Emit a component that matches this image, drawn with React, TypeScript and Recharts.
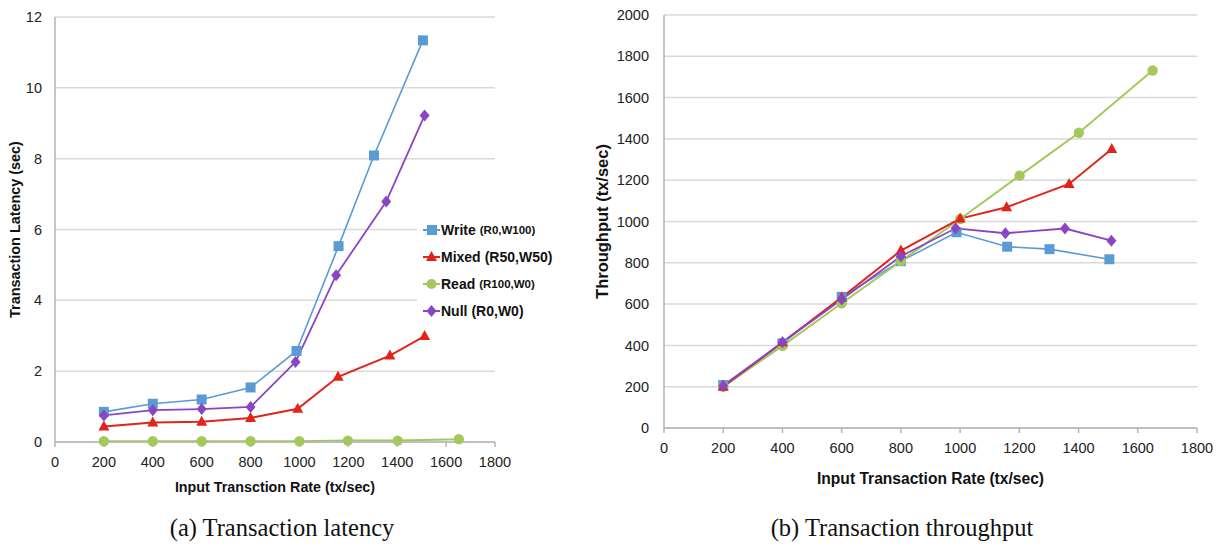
import React from "react";
import { LineChart, Line, XAxis, YAxis, CartesianGrid, Label } from "recharts";

const FONT = "'Liberation Sans', Arial, sans-serif";

// x ticks shared by both panels
const xTicks = [0, 200, 400, 600, 800, 1000, 1200, 1400, 1600, 1800];
const latTicks = [0, 2, 4, 6, 8, 10, 12];
const thrTicks = [0, 200, 400, 600, 800, 1000, 1200, 1400, 1600, 1800, 2000];

// (a) latency, sec
const latWriteX = [200, 400, 600, 800, 988, 1160, 1305, 1505];
const latWriteY = [0.85, 1.08, 1.2, 1.54, 2.57, 5.53, 8.09, 11.34];
const latMixedX = [200, 400, 600, 800, 993, 1158, 1370, 1512];
const latMixedY = [0.44, 0.55, 0.57, 0.68, 0.94, 1.84, 2.44, 2.99];
const latReadX = [200, 400, 600, 800, 1000, 1198, 1402, 1652];
const latReadY = [0.02, 0.02, 0.02, 0.02, 0.02, 0.04, 0.04, 0.08];
const latNullX = [200, 400, 600, 800, 984, 1150, 1355, 1512];
const latNullY = [0.75, 0.9, 0.93, 0.99, 2.26, 4.71, 6.79, 9.22];

// (b) throughput, tx/sec
const thrWriteX = [200, 400, 600, 800, 988, 1159, 1302, 1504];
const thrWriteY = [208, 410, 635, 808, 948, 878, 866, 817];
const thrMixedX = [200, 400, 600, 800, 1000, 1157, 1368, 1512];
const thrMixedY = [200, 415, 632, 859, 1014, 1069, 1182, 1351];
const thrReadX = [200, 400, 600, 800, 1000, 1201, 1401, 1650];
const thrReadY = [200, 398, 604, 808, 1012, 1222, 1430, 1731];
const thrNullX = [200, 400, 600, 800, 985, 1153, 1354, 1511];
const thrNullY = [205, 415, 622, 832, 967, 943, 966, 907];

const BLUE = "#5b9bd5";
const RED = "#e2231a";
const GREEN = "#a3c85c";
const PURPLE = "#8a46c2";

const zip = (xs: number[], ys: number[]) => xs.map((x, i) => ({ x, y: ys[i] }));

// marker shapes
const square = (c: string) => (p: any) => (
  <rect key={`s${p.index}`} x={p.cx - 5} y={p.cy - 5} width={10} height={10} fill={c} />
);
const triangle = (c: string) => (p: any) => (
  <polygon
    key={`t${p.index}`}
    points={`${p.cx},${p.cy - 6} ${p.cx + 5.5},${p.cy + 4} ${p.cx - 5.5},${p.cy + 4}`}
    fill={c}
  />
);
const circle = (c: string) => (p: any) => (
  <circle key={`c${p.index}`} cx={p.cx} cy={p.cy} r={5.2} fill={c} />
);
const diamond = (c: string) => (p: any) => (
  <polygon
    key={`d${p.index}`}
    points={`${p.cx},${p.cy - 6} ${p.cx + 5},${p.cy} ${p.cx},${p.cy + 6} ${p.cx - 5},${p.cy}`}
    fill={c}
  />
);

const Panel = ({
  width,
  height,
  margin,
  yWidth,
  yMargin,
  yMax,
  yTicks,
  yTitle,
  xTitle,
  xTitleSize,
  yTitleSize,
  xTitleOffset,
  yTitleOffset,
  series,
}: any) => (
  <LineChart width={width} height={height} margin={margin}>
    <CartesianGrid vertical={false} stroke="#d9d9d9" strokeWidth={1.5} />
    <XAxis
      type="number"
      dataKey="x"
      domain={[0, 1800]}
      ticks={xTicks}
      interval={0}
      height={55}
      stroke="#b5b5b5"
      strokeWidth={1.5}
      tickSize={5}
      tickMargin={10}
      tick={{ fill: "#222", fontSize: 14.5, fontFamily: FONT }}
    >
      <Label
        value={xTitle}
        position="insideBottom"
        offset={xTitleOffset}
        style={{ fontFamily: FONT, fontWeight: "bold", fontSize: xTitleSize, fill: "#111" }}
      />
    </XAxis>
    <YAxis
      type="number"
      domain={[0, yMax]}
      ticks={yTicks}
      interval={0}
      width={yWidth}
      stroke="#b5b5b5"
      strokeWidth={1.5}
      tickSize={0}
      tickMargin={yMargin}
      tick={{ fill: "#222", fontSize: 14.5, fontFamily: FONT }}
    >
      <Label
        value={yTitle}
        angle={-90}
        position="insideLeft"
        offset={yTitleOffset}
        style={{
          textAnchor: "middle",
          fontFamily: FONT,
          fontWeight: "bold",
          fontSize: yTitleSize,
          fill: "#111",
        }}
      />
    </YAxis>
    {series.map((s: any) => (
      <Line
        key={s.name}
        data={s.data}
        dataKey="y"
        type="linear"
        stroke={s.color}
        strokeWidth={s.w}
        dot={s.dot}
        activeDot={false}
        isAnimationActive={false}
      />
    ))}
  </LineChart>
);

const latSeries = [
  { name: "write", data: zip(latWriteX, latWriteY), color: BLUE, w: 1.6, dot: square(BLUE) },
  { name: "mixed", data: zip(latMixedX, latMixedY), color: RED, w: 2, dot: triangle(RED) },
  { name: "read", data: zip(latReadX, latReadY), color: GREEN, w: 2, dot: circle(GREEN) },
  { name: "null", data: zip(latNullX, latNullY), color: PURPLE, w: 1.8, dot: diamond(PURPLE) },
];

const thrSeries = [
  { name: "write", data: zip(thrWriteX, thrWriteY), color: BLUE, w: 1.6, dot: square(BLUE) },
  { name: "read", data: zip(thrReadX, thrReadY), color: GREEN, w: 2, dot: circle(GREEN) },
  { name: "mixed", data: zip(thrMixedX, thrMixedY), color: RED, w: 2, dot: triangle(RED) },
  { name: "null", data: zip(thrNullX, thrNullY), color: PURPLE, w: 1.8, dot: diamond(PURPLE) },
];

const legendItems = [
  { label: "Write", sub: "(R0,W100)", small: true, color: BLUE, kind: "square" },
  { label: "Mixed", sub: "(R50,W50)", small: false, color: RED, kind: "triangle" },
  { label: "Read", sub: "(R100,W0)", small: true, color: GREEN, kind: "circle" },
  { label: "Null", sub: "(R0,W0)", small: false, color: PURPLE, kind: "diamond" },
];

const LegendMark = ({ kind, color }: any) => (
  <svg width={17} height={14} style={{ display: "block" }}>
    <line x1={0} y1={7} x2={17} y2={7} stroke={color} strokeWidth={2} />
    {kind === "square" && <rect x={4} y={2} width={10} height={10} fill={color} />}
    {kind === "triangle" && <polygon points="8.5,1 14,11 3,11" fill={color} />}
    {kind === "circle" && <circle cx={8.5} cy={7} r={5} fill={color} />}
    {kind === "diamond" && <polygon points="8.5,1 13.5,7 8.5,13 3.5,7" fill={color} />}
  </svg>
);

const captionStyle: React.CSSProperties = {
  position: "absolute",
  top: 514,
  width: 360,
  textAlign: "center",
  fontFamily: "'Liberation Serif', 'DejaVu Serif', serif",
  fontSize: 24.5,
  color: "#111",
};

export default function App() {
  return (
    <div style={{ position: "absolute", left: 0, top: 0, width: 1221, height: 548, background: "#fff" }}>
      <div style={{ position: "absolute", left: 0, top: 0 }}>
        <Panel
          width={600}
          height={500}
          margin={{ top: 17, right: 105, left: 15, bottom: 3 }}
          yWidth={40}
          yMargin={13}
          yMax={12}
          yTicks={latTicks}
          yTitle="Transaction Latency (sec)"
          xTitle="Input Transction Rate (tx/sec)"
          xTitleSize={14.3}
          yTitleSize={14.4}
          xTitleOffset={5}
          yTitleOffset={0}
          series={latSeries}
        />
      </div>

      {/* legend of panel (a) sits over the plot */}
      <div
        style={{
          position: "absolute",
          left: 417,
          top: 214,
          width: 140,
          height: 108,
          background: "#fff",
          paddingTop: 2,
          paddingLeft: 6,
          boxSizing: "border-box",
          fontFamily: FONT,
          color: "#111",
        }}
      >
        {legendItems.map((it) => (
          <div key={it.label} style={{ display: "flex", alignItems: "center", height: 27 }}>
            <LegendMark kind={it.kind} color={it.color} />
            <span style={{ fontSize: 14, fontWeight: "bold", marginLeft: 1 }}>{it.label}</span>
            <span style={{ fontSize: it.small ? 11.5 : 14, fontWeight: "bold", marginLeft: 4 }}>{it.sub}</span>
          </div>
        ))}
      </div>

      <div style={{ position: "absolute", left: 590, top: 0 }}>
        <Panel
          width={631}
          height={500}
          margin={{ top: 15, right: 24, left: 24, bottom: 17 }}
          yWidth={50}
          yMargin={15}
          yMax={2000}
          yTicks={thrTicks}
          yTitle="Throughput (tx/sec)"
          xTitle="Input Transaction Rate (tx/sec)"
          xTitleSize={15.6}
          yTitleSize={16.5}
          xTitleOffset={-1}
          yTitleOffset={-12}
          series={thrSeries}
        />
      </div>

      <div style={{ ...captionStyle, left: 102 }}>(a) Transaction latency</div>
      <div style={{ ...captionStyle, left: 722 }}>(b) Transaction throughput</div>
    </div>
  );
}
